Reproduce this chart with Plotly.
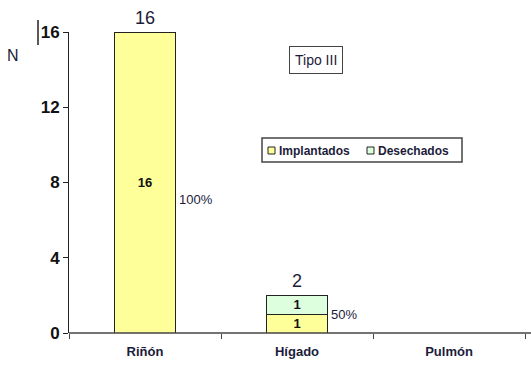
import plotly.graph_objects as go

categories = ["Riñón", "Hígado", "Pulmón"]
implantados = [16, 1, 0]
desechados = [0, 1, 0]
pct_labels = ["100%", "50%", ""]
y_ticks = [0, 4, 8, 12, 16]

txt = "#1c1c3a"
font = "Liberation Sans, Arial, sans-serif"
fill_impl = "#FFFF99"
fill_des = "#DDFFDD"

# plot area geometry in pixels (used to place paper-anchored decorations)
L, T, W, H = 69, 32, 456, 301

def px(x):
    return (x - L) / W

def py(y):
    return (T + H - y) / H

def seg_text(vals):
    return [f"<b>{v}</b>" if v > 0 else "" for v in vals]

fig = go.Figure()
fig.add_trace(go.Bar(
    x=categories, y=implantados, name="Implantados",
    marker=dict(color=fill_impl, line=dict(color="#222222", width=1)),
    text=seg_text(implantados), textposition="inside", insidetextanchor="middle",
    textangle=0, constraintext="none",
    textfont=dict(size=13, color="#111111", family=font), width=0.4,
))
fig.add_trace(go.Bar(
    x=categories, y=desechados, name="Desechados",
    marker=dict(color=fill_des, line=dict(color="#222222", width=1)),
    text=seg_text(desechados), textposition="inside", insidetextanchor="middle",
    textangle=0, constraintext="none",
    textfont=dict(size=13, color="#111111", family=font), width=0.4,
))

totals = [a + b for a, b in zip(implantados, desechados)]
for i, (c, t) in enumerate(zip(categories, totals)):
    if t > 0:
        fig.add_annotation(x=c, y=t, text=str(t), showarrow=False,
                           yanchor="bottom", yshift=2,
                           font=dict(size=18, color=txt, family=font))
        fig.add_annotation(x=i + 0.21, y=t / 2 - (0.9 if t > 10 else 0), text=pct_labels[i],
                           showarrow=False, xanchor="left", yanchor="middle",
                           font=dict(size=13, color=txt, family=font))

# y-axis title and series caption box
fig.add_annotation(xref="paper", yref="paper", x=px(13), y=py(56), text="N",
                   xanchor="center", yanchor="middle",
                   showarrow=False, font=dict(size=16, color=txt, family=font))
fig.add_annotation(xref="paper", yref="paper", x=px(316), y=py(60), text="Tipo III",
                   xanchor="center", yanchor="middle",
                   showarrow=False, bordercolor="#444444", borderwidth=1, borderpad=5,
                   bgcolor="white", font=dict(size=14, color=txt, family=font))

# compact legend box
fig.add_shape(type="rect", xref="paper", yref="paper", x0=px(262), x1=px(462),
              y0=py(162), y1=py(138), line=dict(color="#444444", width=1.5),
              fillcolor="white")
legend_items = [("Implantados", fill_impl, 268), ("Desechados", fill_des, 367)]
for name, color, x0 in legend_items:
    fig.add_shape(type="rect", xref="paper", yref="paper", x0=px(x0), x1=px(x0 + 7),
                  y0=py(154), y1=py(147), line=dict(color="#222222", width=1),
                  fillcolor=color)
    fig.add_annotation(xref="paper", yref="paper", x=px(x0 + 9), y=py(150.5),
                       text=f"<b>{name}</b>", showarrow=False,
                       xanchor="left", yanchor="middle",
                       font=dict(size=12, color=txt, family=font))

# extended baseline to the right edge
fig.add_shape(type="line", xref="paper", yref="paper", x0=0, x1=px(531),
              y0=0, y1=0, line=dict(color="#444444", width=1.5))
# small stray stroke left of the top tick
fig.add_shape(type="line", xref="paper", yref="paper", x0=px(38), x1=px(38),
              y0=py(45), y1=py(20), line=dict(color="#222222", width=1.5))

fig.update_layout(
    width=531, height=366,
    margin=dict(l=L, r=531 - L - W, t=T, b=366 - T - H),
    paper_bgcolor="white", plot_bgcolor="white",
    barmode="stack", bargap=0.6,
    uniformtext=dict(minsize=13, mode="show"),
    font=dict(family=font, color=txt),
    showlegend=False,
    xaxis=dict(showline=False, ticks="outside", tickson="boundaries", ticklen=5,
               tickcolor="#444444", showgrid=False, ticklabelstandoff=9,
               range=[-0.5, 2.5], automargin=False,
               tickfont=dict(size=13, color=txt, family=font),
               tickvals=categories, ticktext=[f"<b>{c}</b>" for c in categories]),
    yaxis=dict(range=[0, 16], tickvals=y_ticks, ticktext=[f"<b>{v}</b>" for v in y_ticks],
               showline=True, linecolor="#222222", automargin=False,
               linewidth=1, ticks="outside", ticklen=5, tickcolor="#222222",
               showgrid=False, zeroline=False,
               tickfont=dict(size=17, color="#111111", family=font)),
)

fig.write_html("out.html")
